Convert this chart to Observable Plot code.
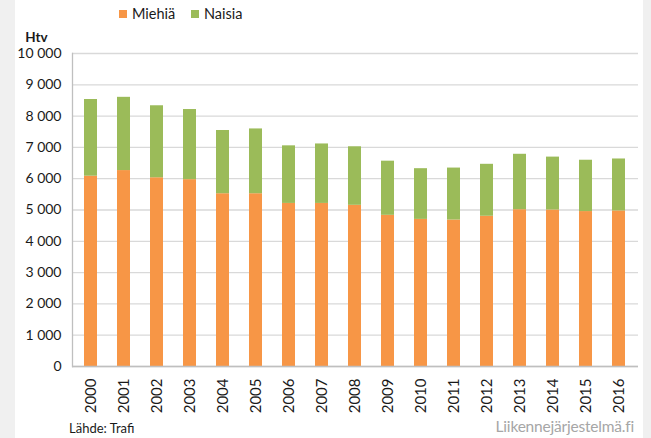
<!DOCTYPE html>
<html>
<head>
<meta charset="utf-8">
<script src="https://cdn.jsdelivr.net/npm/d3@7"></script>
<script src="https://cdn.jsdelivr.net/npm/@observablehq/plot@0.6"></script>
<style>
  html, body { margin: 0; padding: 0; }
  body { width: 651px; height: 438px; background: #f0f0f0; position: relative; overflow: hidden; font-family: Lato, "Open Sans", sans-serif; color: #1a1a1a; }
  #panel { position: absolute; left: 15px; top: 0; width: 628px; height: 438px; background: #fff; }
  .legend { position: absolute; top: 5px; font-size: 14.5px; display: flex; align-items: center; }
  .sw { width: 8px; height: 8px; margin-right: 5px; }
  #chart { position: absolute; left: 15px; top: 26px; }
  #src { position: absolute; left: 69px; top: 420px; font-size: 13px; }
  #brand { position: absolute; right: 17px; top: 417px; font-size: 15.5px; color: #a6a6a6; letter-spacing: -0.2px; }
</style>
</head>
<body>
<div id="panel"></div>
<div class="legend" style="left:119px"><div class="sw" style="background:#F79646"></div><span>Miehiä</span></div>
<div class="legend" style="left:191px"><div class="sw" style="background:#9BBB59"></div><span>Naisia</span></div>
<div id="chart"></div>
<div id="src">Lähde: Trafi</div>
<div id="brand">Liikennejärjestelmä.fi</div>
<script>
const years = ["2000","2001","2002","2003","2004","2005","2006","2007","2008","2009","2010","2011","2012","2013","2014","2015","2016"];
const miehia = [6080, 6260, 6030, 5970, 5520, 5520, 5210, 5210, 5150, 4830, 4700, 4680, 4800, 5010, 5000, 4950, 4970];
const naisia = [2450, 2340, 2300, 2240, 2020, 2070, 1840, 1900, 1870, 1730, 1620, 1660, 1660, 1770, 1690, 1640, 1660];
const series = ["Miehiä", "Naisia"];
const colors = ["#F79646", "#9BBB59"];
const yTicks = [0, 1000, 2000, 3000, 4000, 5000, 6000, 7000, 8000, 9000, 10000];
const yTitle = "Htv";

const data = [];
years.forEach((y, i) => {
  data.push({year: y, sex: series[0], value: miehia[i]});
  data.push({year: y, sex: series[1], value: naisia[i]});
});
const fmt = d => d3.format(",")(d).replace(/,/g, "\u00a0");

const chart = Plot.plot({
  width: 628,
  height: 390,
  marginTop: 27,
  marginBottom: 50,
  marginLeft: 57,
  marginRight: 5,
  style: {fontFamily: "Lato, 'Open Sans', sans-serif", fontSize: "13.5px", color: "#1a1a1a", background: "transparent"},
  x: {domain: years, paddingInner: 0.6, paddingOuter: 0.3, label: null},
  y: {domain: [0, 10000], label: null},
  color: {domain: series, range: colors},
  marks: [
    Plot.gridY(yTicks, {stroke: "#d9d9d9", strokeOpacity: 1, strokeWidth: 1.3}),
    Plot.barY(data, Plot.stackY({x: "year", y: "value", fill: "sex", order: null})),
    Plot.ruleY([0], {stroke: "#bfbfbf", strokeWidth: 1.3}),
    Plot.frame({anchor: "left", stroke: "#bfbfbf", strokeWidth: 1.3}),
    Plot.axisY(yTicks, {tickSize: 0, tickPadding: 11, tickFormat: fmt, label: null, fontSize: 14}),
    Plot.axisX({tickRotate: -90, tickSize: 0, tickPadding: 12, label: null, fontSize: 15}),
    Plot.text([yTitle], {frameAnchor: "top-left", dx: -36, dy: -21, textAnchor: "middle", fontWeight: "bold", fontSize: 13.5})
  ]
});
document.getElementById("chart").appendChild(chart);
</script>
</body>
</html>
